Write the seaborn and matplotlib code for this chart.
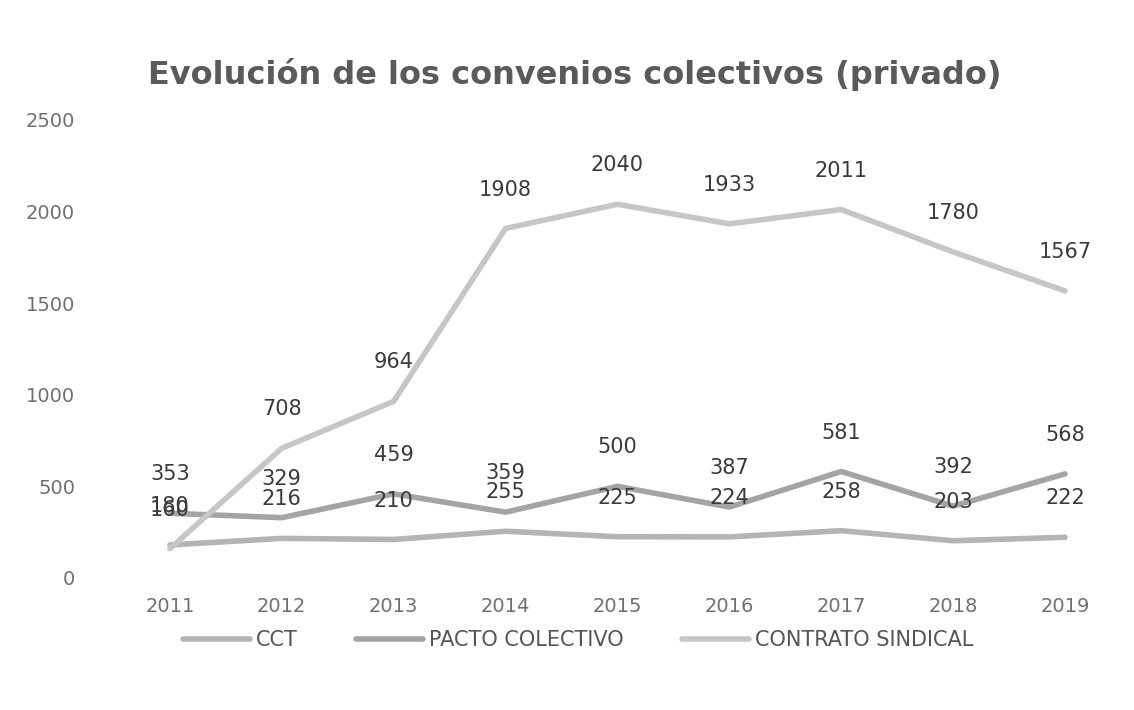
import matplotlib
matplotlib.use("Agg")
import matplotlib.pyplot as plt
import seaborn as sns
import pandas as pd

years = ["2011", "2012", "2013", "2014", "2015", "2016", "2017", "2018", "2019"]
cct = [180, 216, 210, 255, 225, 224, 258, 203, 222]
pacto = [353, 329, 459, 359, 500, 387, 581, 392, 568]
contrato = [160, 708, 964, 1908, 2040, 1933, 2011, 1780, 1567]
series_names = ["CCT", "PACTO COLECTIVO", "CONTRATO SINDICAL"]
yticks = [0, 500, 1000, 1500, 2000, 2500]

df = pd.DataFrame({
    "year": years * 3,
    "value": cct + pacto + contrato,
    "serie": [series_names[0]] * 9 + [series_names[1]] * 9 + [series_names[2]] * 9,
})

sns.set_theme(style="white")
plt.rcParams['font.family'] = ['DejaVu Sans']

palette = {"CCT": "#b4b4b4", "PACTO COLECTIVO": "#a4a4a4", "CONTRATO SINDICAL": "#c6c6c6"}

fig = plt.figure(figsize=(11.34, 7.1), dpi=100)
ax = fig.add_axes([0.1005, 0.186, 0.888, 0.645])

sns.lineplot(data=df, x="year", y="value", hue="serie", palette=palette,
             linewidth=4, ax=ax, legend=True, sort=False)

for vals in (cct, pacto, contrato):
    for i, v in enumerate(vals):
        ax.annotate(str(v), (i, v), xytext=(0, 28), textcoords="offset points",
                    ha="center", va="center", fontsize=15, color="#3a3a3a")

ax.set_xlim(-0.5, 8.5)
ax.set_ylim(0, 2500)
ax.set_yticks(yticks)
ax.set_yticklabels([str(t) for t in yticks])
ax.set_xlabel("")
ax.set_ylabel("")
ax.tick_params(axis="both", labelsize=14, colors="#707070", length=0)
ax.tick_params(axis="y", pad=28)
ax.tick_params(axis="x", pad=14)
for s in ax.spines.values():
    s.set_visible(False)
ax.grid(False)

fig.suptitle("Evolución de los convenios colectivos (privado)", x=0.507, y=0.918,
             fontsize=23, fontweight="bold", color="#5a5a5a")

handles, labels = ax.get_legend_handles_labels()
ax.legend(handles, labels, loc="center", bbox_to_anchor=(0.51, 0.098),
          bbox_transform=fig.transFigure, ncol=3, frameon=False, fontsize=15,
          handlelength=3.2, handletextpad=0.3, columnspacing=2.8, labelcolor="#555555")

fig.savefig("out.png", dpi=100, facecolor="white")
